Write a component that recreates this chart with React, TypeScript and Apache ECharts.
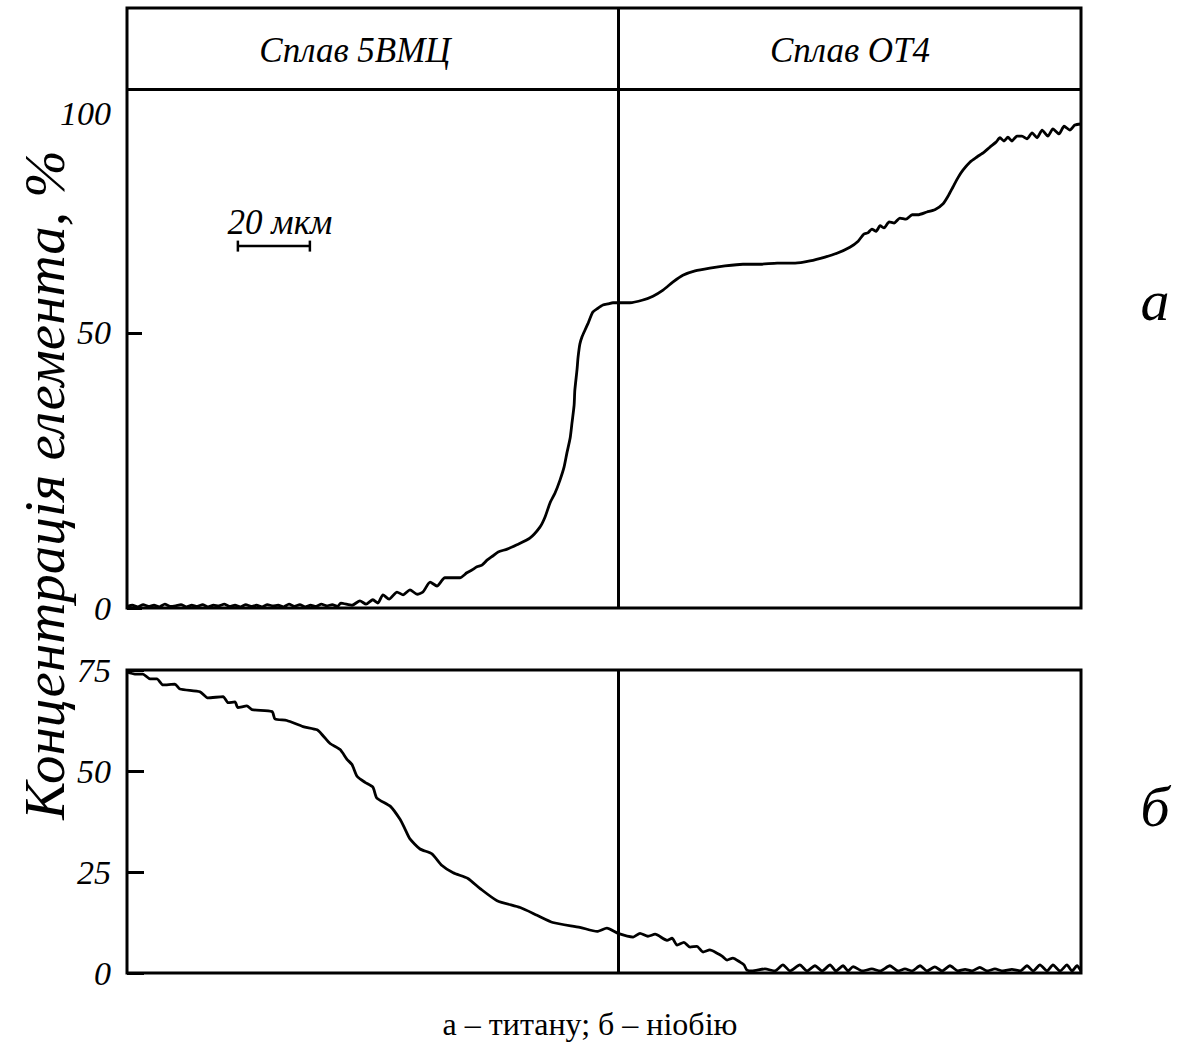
import React, { useEffect, useRef } from "react";
import * as echarts from "echarts";

// x in µm (0..265), interface between alloys at 136.4 µm
const xMax = 265;
const interfaceX = 136.4;
const headerLineY = 94.36; // top-panel value where the header band begins
const topMax = 109.09;
const bottomMax = 75;

const topLabels = [0, 50];
const bottomLabels = [0, 25, 50, 75];
const alloyNames = ["Сплав 5ВМЦ", "Сплав ОТ4"];
const panelNames = ["а", "б"];
const yTitle = "Концентрація елемента, %";
const caption = "а – титану; б – ніобію";
const scaleBarText = "20 мкм";
const scaleBar: [number, number][] = [
  [30.8, 65.8],
  [50.8, 65.8],
];

// Titanium: noisy baseline in 5ВМЦ
const titaniumBaseline = [
  0.3, 0.5, 0.2, 0.6, 0.3, 0.5, 0.2, 0.7, 0.3, 0.4, 0.6, 0.2, 0.5, 0.3, 0.6, 0.2, 0.5, 0.4, 0.7, 0.3,
  0.5, 0.2, 0.6, 0.3, 0.5, 0.2, 0.6, 0.4, 0.5, 0.2, 0.7, 0.3, 0.6, 0.2, 0.5, 0.3, 0.7, 0.4, 0.6, 0.3,
];
const titaniumRise: [number, number][] = [
  [59.4, 0.9], [62.5, 0.5], [64.7, 1.3], [66.4, 0.7], [68.3, 1.5], [69.7, 0.9], [71.1, 2.4],
  [72.8, 1.6], [75.0, 2.9], [76.7, 2.4], [78.6, 3.3], [80.6, 2.5], [82.2, 2.9], [84.2, 4.7],
  [86.1, 4.0], [88.3, 5.5], [92.5, 5.5], [94.4, 6.4], [95.8, 6.9], [97.2, 7.5], [98.6, 7.8],
  [100.0, 8.7], [101.7, 9.5], [103.1, 10.2], [105.6, 10.7], [108.3, 11.5], [111.9, 12.7],
  [114.7, 14.7], [116.1, 16.5], [117.5, 19.1], [118.9, 20.9], [120.3, 23.3], [121.4, 25.6],
  [122.2, 28.2], [123.1, 30.9], [123.6, 33.6], [124.2, 36.9], [124.4, 39.6], [125.0, 43.3],
  [125.3, 45.6], [125.8, 48.0], [126.4, 49.3], [127.2, 50.5], [128.1, 51.8], [129.4, 53.8],
  [130.8, 54.5], [132.2, 55.1], [133.6, 55.3], [135.0, 55.5], [136.4, 55.5],
];
const titaniumOT4: [number, number][] = [
  [139.7, 55.5], [143.3, 56.0], [146.1, 56.7], [148.9, 57.8], [151.7, 59.3], [154.4, 60.5],
  [157.8, 61.3], [161.9, 61.8], [166.1, 62.2], [171.1, 62.5], [175.8, 62.5], [180.6, 62.7],
  [185.6, 62.7], [189.7, 63.1], [193.9, 63.8], [197.2, 64.5], [200.8, 65.6], [203.1, 66.7],
  [204.7, 68.0], [205.8, 68.2], [206.9, 68.9], [208.1, 68.5], [209.2, 69.5], [210.3, 69.1],
  [211.7, 70.2], [213.1, 70.0], [214.7, 70.9], [216.4, 70.7], [218.1, 71.5], [219.7, 71.5],
  [222.2, 72.0], [224.4, 72.4], [226.7, 73.5], [228.1, 74.9], [229.4, 76.5], [230.8, 78.2],
  [232.2, 79.6], [234.2, 81.1], [236.1, 82.0], [238.1, 82.9], [239.7, 83.8], [241.4, 84.7],
  [242.5, 85.5], [243.6, 84.9], [244.7, 85.6], [245.8, 84.9], [247.2, 85.8], [248.6, 85.8],
  [250.0, 85.3], [251.4, 86.4], [252.8, 85.5], [254.2, 86.9], [255.8, 85.8], [257.2, 87.1],
  [258.9, 86.2], [260.3, 87.6], [261.9, 86.9], [263.3, 87.8], [265.0, 88.0],
];

// Niobium
const niobium5VMC: [number, number][] = [
  [0, 74.5], [2.2, 74.0], [4.4, 74.0], [6.4, 72.8], [8.3, 72.8], [10.0, 71.3], [13.3, 71.5],
  [14.7, 70.3], [20.3, 69.6], [22.5, 68.1], [26.7, 68.4], [28.1, 66.9], [30.0, 67.1], [30.8, 65.7],
  [33.3, 66.1], [34.7, 65.2], [40.3, 64.7], [41.1, 62.9], [44.4, 62.5], [48.9, 61.0], [52.8, 60.2],
  [54.4, 58.8], [56.4, 56.8], [59.2, 55.3], [61.1, 52.9], [62.5, 51.6], [63.9, 48.7], [66.1, 47.2],
  [68.3, 46.0], [69.4, 43.3], [73.1, 41.3], [75.8, 38.1], [77.2, 35.7], [78.6, 33.2], [81.4, 30.7],
  [84.7, 29.5], [87.5, 26.6], [90.6, 24.8], [94.7, 23.4], [98.1, 20.9], [102.8, 17.9], [109.2, 16.2],
  [113.9, 14.3], [118.3, 12.5], [125.8, 11.3], [130.6, 10.3], [133.3, 11.1], [136.4, 9.8],
];
const niobiumOT4: [number, number][] = [
  [140.6, 8.9], [142.5, 9.8], [144.7, 9.1], [146.7, 9.6], [150.0, 8.1], [151.4, 8.6], [152.8, 6.9],
  [154.7, 7.6], [156.4, 6.4], [158.3, 6.6], [160.0, 5.2], [161.9, 5.7], [163.9, 4.9], [165.3, 4.2],
  [166.7, 3.2], [168.3, 3.7], [170.3, 2.7], [171.4, 2.0], [172.2, 0.7], [173.6, 0.5], [177.2, 1.0],
  [180.0, 0.5], [182.2, 2.0], [184.2, 0.5], [186.9, 2.0], [188.9, 0.5], [191.1, 1.8], [193.1, 0.5],
  [195.3, 2.0], [196.9, 0.5], [198.9, 1.8], [200.3, 0.5], [201.7, 1.6], [204.2, 0.5], [206.9, 1.0],
  [209.2, 0.5], [211.9, 1.8], [214.2, 0.5], [216.1, 1.0], [218.1, 0.5], [220.3, 1.8], [222.2, 0.5],
  [224.4, 1.5], [226.4, 0.5], [228.6, 1.8], [230.8, 0.5], [232.8, 0.9], [234.7, 0.5], [236.9, 1.4],
  [238.9, 0.5], [241.1, 1.0], [243.3, 0.5], [245.8, 0.9], [248.1, 0.5], [250.0, 1.8], [251.7, 0.5],
  [253.6, 2.0], [255.6, 0.5], [257.2, 2.0], [259.2, 0.5], [261.1, 2.0], [262.5, 0.5], [263.9, 1.8],
  [265.0, 0.5],
];

const FAMILY = "Liberation Serif";
const ital = (size: number) => `italic ${size}px '${FAMILY}'`;

export default function App() {
  const ref = useRef<HTMLDivElement>(null);
  useEffect(() => {
    if (!ref.current) return;
    const chart = echarts.init(ref.current, undefined, { renderer: "svg" });
    const titanium: [number, number][] = [
      ...titaniumBaseline.map((v, i) => [i * 1.5, v] as [number, number]),
      ...titaniumRise,
      ...titaniumOT4,
    ];
    const niobium = [...niobium5VMC, ...niobiumOT4];
    const labelStyle = {
      fontFamily: FAMILY,
      fontStyle: "italic" as const,
      fontSize: 34,
      color: "#000",
      margin: 16,
    };
    const divider = {
      silent: true,
      symbol: "none",
      label: { show: false },
      lineStyle: { color: "#000", width: 3, type: "solid" as const },
      animation: false,
    };
    const txt = (x: number, y: number, text: string, font: string, align = "center") => ({
      type: "text",
      x,
      y,
      style: { text, font, fill: "#000", align, verticalAlign: "middle" },
    });
    chart.setOption({
      animation: false,
      backgroundColor: "#fff",
      grid: [
        { left: 127, top: 8, width: 954, height: 600, show: true, borderColor: "#000", borderWidth: 3, backgroundColor: "transparent" },
        { left: 127, top: 670, width: 954, height: 303, show: true, borderColor: "#000", borderWidth: 3, backgroundColor: "transparent" },
      ],
      xAxis: [0, 1].map((g) => ({
        type: "value",
        gridIndex: g,
        min: 0,
        max: xMax,
        axisLine: { show: false },
        axisTick: { show: false },
        axisLabel: { show: false },
        splitLine: { show: false },
      })),
      yAxis: [
        {
          type: "value",
          gridIndex: 0,
          min: 0,
          max: topMax,
          axisLine: { show: false },
          axisTick: { show: true, inside: true, length: 15, lineStyle: { color: "#000", width: 3 }, customValues: topLabels },
          axisLabel: { ...labelStyle, customValues: topLabels },
          splitLine: { show: false },
        },
        {
          type: "value",
          gridIndex: 1,
          min: 0,
          max: bottomMax,
          interval: 25,
          axisLine: { show: false },
          axisTick: { show: true, inside: true, length: 17, lineStyle: { color: "#000", width: 3 } },
          axisLabel: { ...labelStyle, customValues: bottomLabels },
          splitLine: { show: false },
        },
      ],
      series: [
        {
          type: "line",
          xAxisIndex: 0,
          yAxisIndex: 0,
          data: titanium,
          showSymbol: false,
          smooth: 0.2,
          lineStyle: { color: "#000", width: 2.8 },
          markLine: { ...divider, data: [{ xAxis: interfaceX }, { yAxis: headerLineY }] },
        },
        {
          type: "line",
          xAxisIndex: 0,
          yAxisIndex: 0,
          data: scaleBar,
          showSymbol: true,
          symbol: "rect",
          symbolSize: [2.5, 11],
          itemStyle: { color: "#000" },
          lineStyle: { color: "#000", width: 2.5 },
        },
        {
          type: "line",
          xAxisIndex: 1,
          yAxisIndex: 1,
          data: niobium,
          showSymbol: false,
          smooth: 0.2,
          lineStyle: { color: "#000", width: 2.8 },
          markLine: { ...divider, data: [{ xAxis: interfaceX }] },
        },
      ],
      graphic: [
        txt(355, 50, alloyNames[0], ital(35)),
        txt(850, 50, alloyNames[1], ital(35)),
        txt(111, 113, "100", ital(34), "right"),
        txt(280, 222, scaleBarText, ital(35)),
        txt(1155, 300, panelNames[0], ital(58)),
        txt(1155, 806, panelNames[1], ital(58)),
        {
          type: "text",
          x: 44,
          y: 485,
          rotation: Math.PI / 2,
          style: { text: yTitle, font: ital(57), fill: "#000", align: "center", verticalAlign: "middle" },
        },
        txt(590, 1024, caption, `32px '${FAMILY}'`),
      ],
    });
    return () => chart.dispose();
  }, []);
  return (
    <div
      ref={ref}
      style={{ position: "absolute", left: 0, top: 0, width: 1182, height: 1043, background: "#fff" }}
    />
  );
}
